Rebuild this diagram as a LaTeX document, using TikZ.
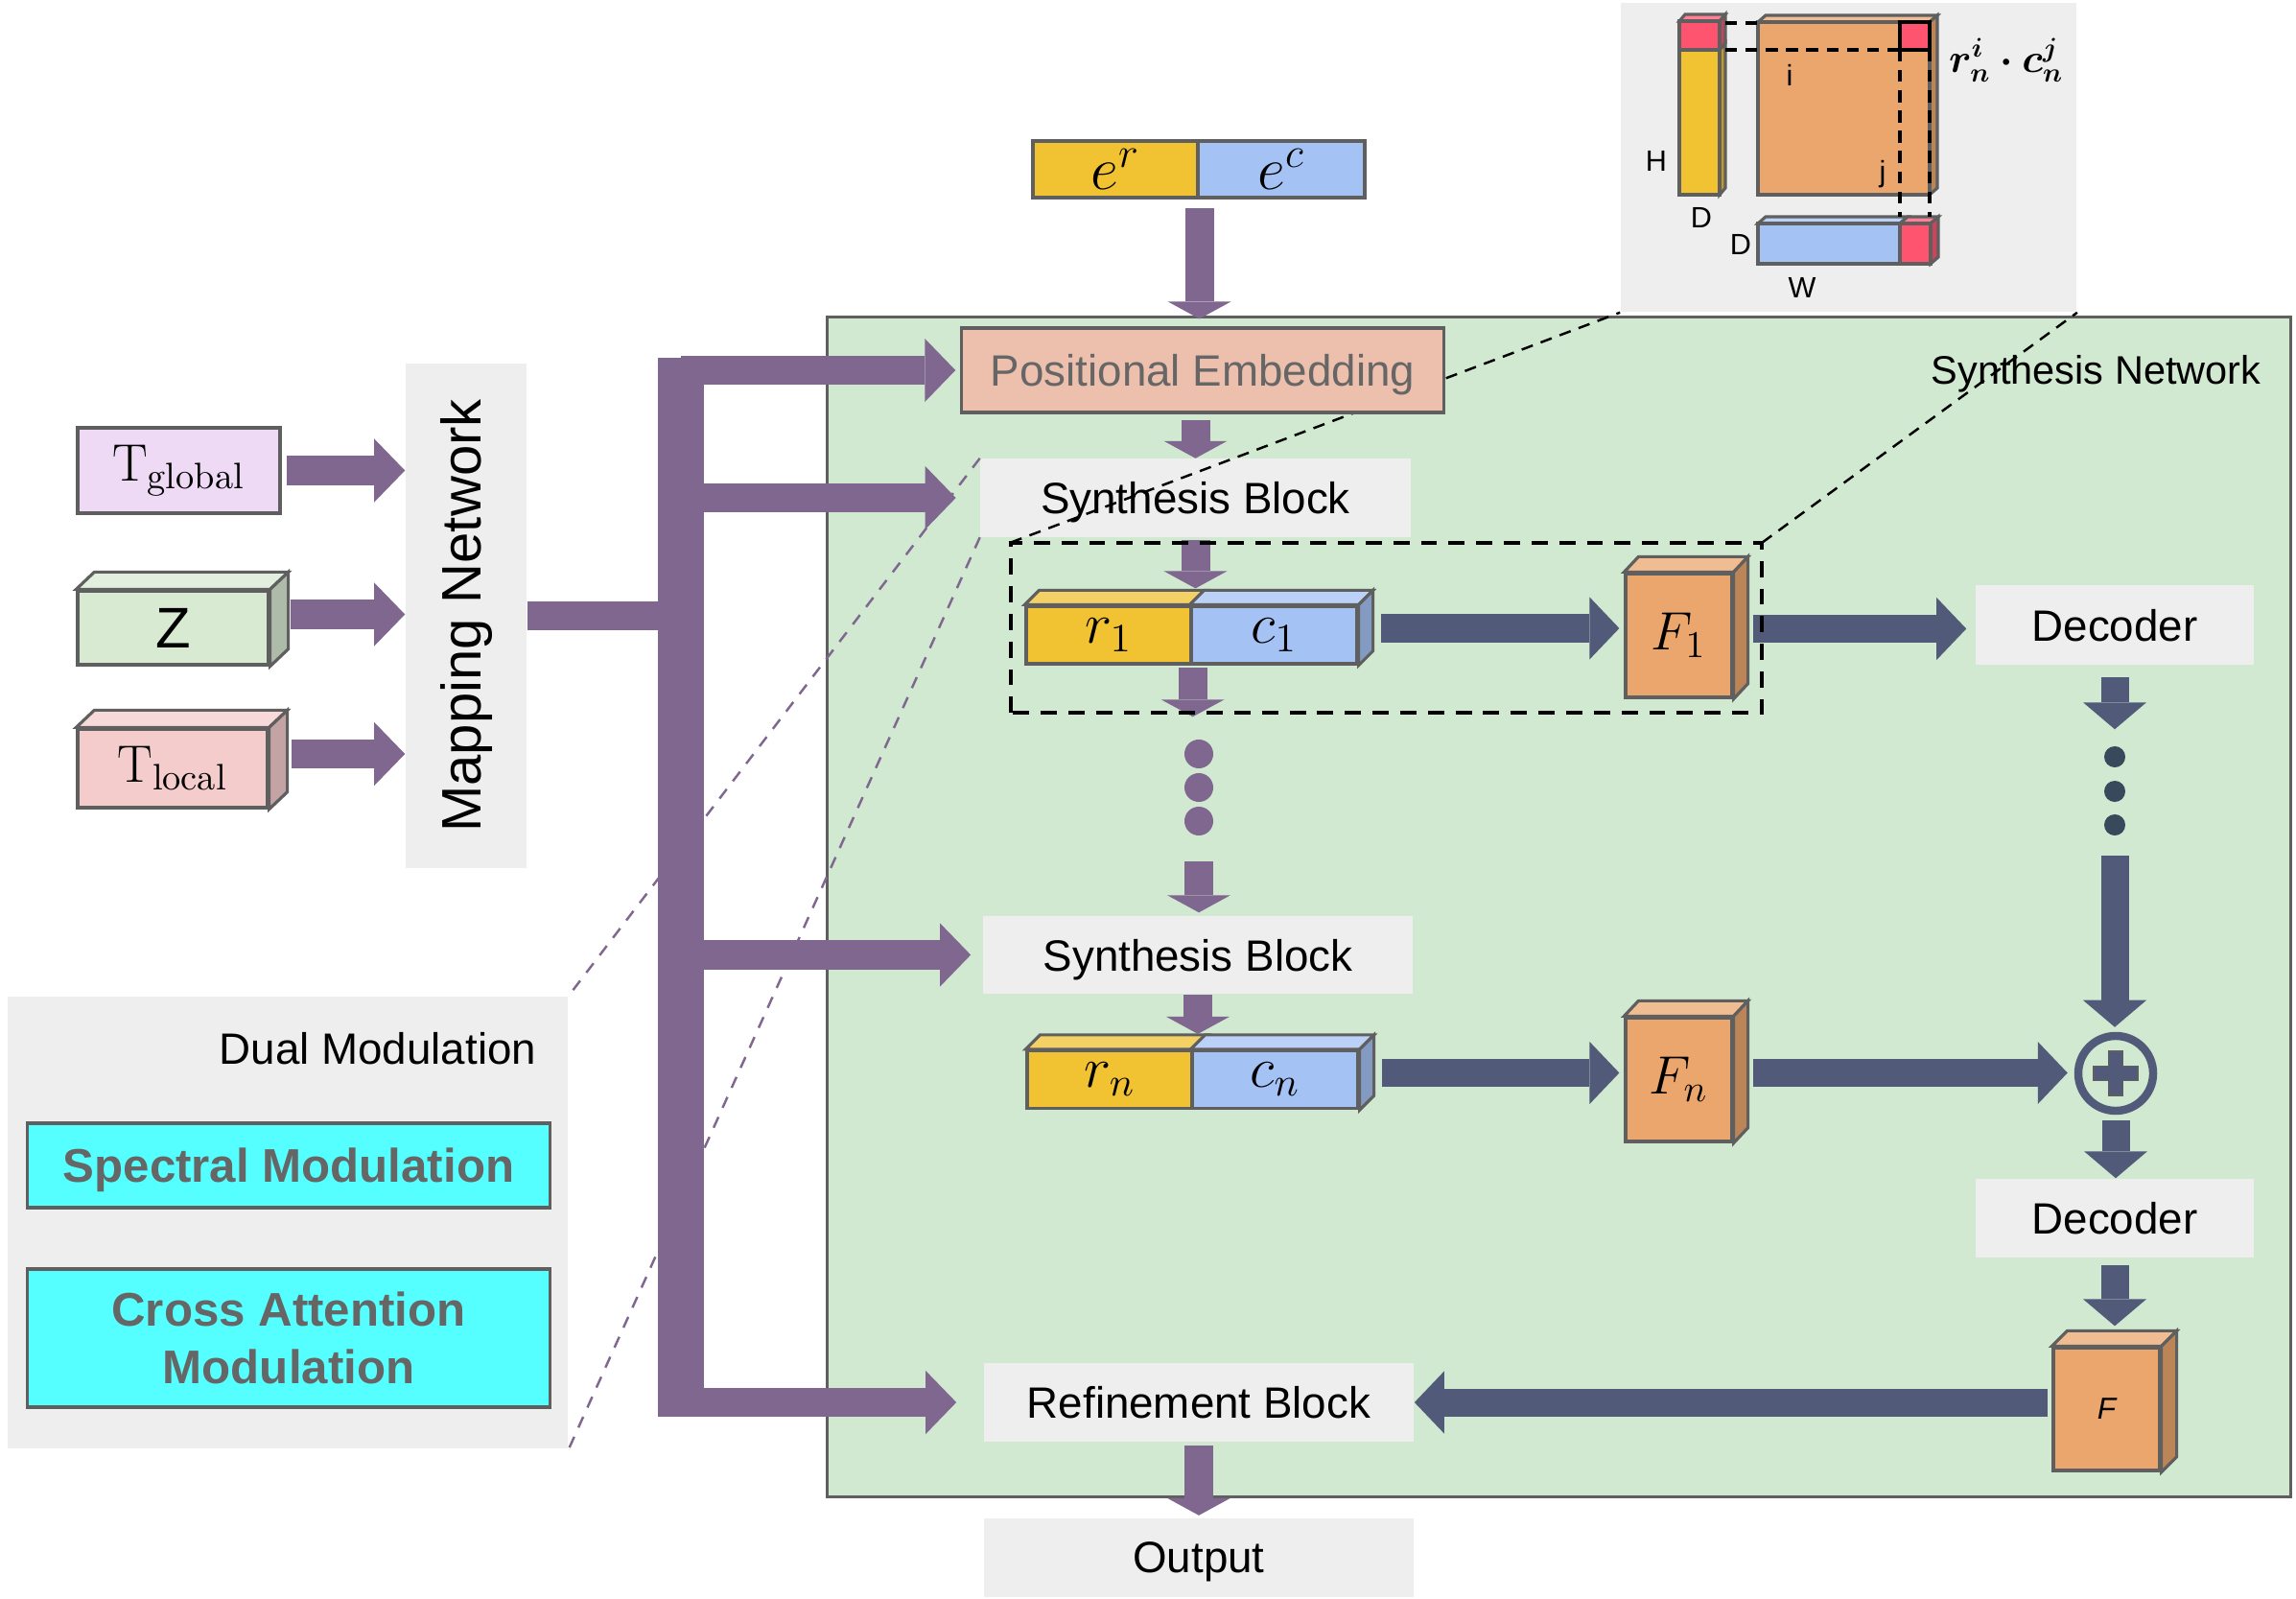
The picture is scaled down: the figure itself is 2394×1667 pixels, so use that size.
\RequirePackage{fix-cm}
\documentclass[tikz,border=0pt]{standalone}
\usepackage{fontspec}
\setsansfont{Liberation Sans}
\usepackage{amsmath,amssymb,bm}
\usepackage{xcolor}
\usetikzlibrary{
  arrows.meta,
  positioning,
  fit,
  calc,
}
\definecolor{busviolet}{RGB}{128,103,143}
\definecolor{flowblue}{RGB}{82,90,122}
\definecolor{synthgreen}{RGB}{208,233,208}
\definecolor{panelgray}{RGB}{238,238,238}
\definecolor{edgegray}{RGB}{95,95,95}
\definecolor{labelgray}{RGB}{102,102,102}
\definecolor{rowyellow}{RGB}{241,194,50}
\definecolor{colblue}{RGB}{164,194,244}
\definecolor{featorange}{RGB}{235,166,110}
\definecolor{hitred}{RGB}{255,84,112}
\definecolor{embsalmon}{RGB}{237,191,173}
\definecolor{modcyan}{RGB}{85,255,255}
\definecolor{tglobfill}{RGB}{238,218,245}
\definecolor{zfill}{RGB}{217,234,211}
\definecolor{tlocfill}{RGB}{244,204,204}
\definecolor{dotdark}{RGB}{55,73,91}
\tikzset{
  facebox/.style={draw=edgegray, line width=0.9pt, inner sep=0pt},
  greybox/.style={
    fill=panelgray, inner sep=0pt, minimum width=4.48cm, minimum height=0.81cm,
    text depth=0pt, font=\fontsize{13}{15}\selectfont\sffamily
  },
  decbox/.style={greybox, minimum width=2.9cm, minimum height=0.82cm},
  barhalf/.style={
    facebox, minimum width=1.72cm, minimum height=0.60cm,
    font=\fontsize{17}{19}\selectfont
  },
  featcube/.style={
    facebox, fill=featorange, minimum width=1.11cm, minimum height=1.29cm,
    font=\fontsize{16}{18}\selectfont
  },
  inbox/.style={facebox, minimum width=1.99cm, minimum height=0.79cm},
  modbox/.style={
    facebox, fill=modcyan, minimum width=5.44cm, text=labelgray, text depth=0pt,
    font=\fontsize{14}{17}\selectfont\sffamily\bfseries, align=center
  },
  violetdot/.style={circle, fill=busviolet, minimum size=0.30cm, inner sep=0pt},
  darkdot/.style={circle, fill=dotdark, minimum size=0.22cm, inner sep=0pt},
  busarrow/.style={busviolet, line width=0.30cm,
    -{Triangle[length=0.32cm, width=0.66cm, line width=0pt]}},
  busdown/.style={busviolet, line width=0.30cm,
    -{Triangle[length=0.18cm, width=0.66cm, line width=0pt]}},
  flowarrow/.style={flowblue, line width=0.29cm,
    -{Triangle[length=0.31cm, width=0.65cm, line width=0pt]}},
  flowdown/.style={flowblue, line width=0.29cm,
    -{Triangle[length=0.28cm, width=0.66cm, line width=0pt]}},
  zoomdash/.style={black, line width=1.1pt, dash pattern=on 4.8pt off 3.4pt},
  linkdash/.style={black, line width=0.7pt, dash pattern=on 3.5pt off 2.5pt},
  moddash/.style={busviolet, line width=0.7pt, dash pattern=on 3.5pt off 3pt},
  tinylbl/.style={font=\fontsize{8.7}{10}\selectfont\sffamily, inner sep=0pt},
}

\begin{document}
\begin{tikzpicture}[x=0.01cm, y=-0.01cm]
  \useasboundingbox (0,0) rectangle (2394,1667);

  % ── Synthesis network panel ──
  \node[draw=edgegray, line width=0.9pt, fill=synthgreen, minimum width=15.25cm,
    minimum height=12.29cm, inner sep=0pt] (SN) at (1625.5,945.5) {};
  \node[anchor=east, inner sep=0pt, text depth=0pt, font=\fontsize{11.8}{14}\selectfont\sffamily]
    at ($(SN.north east)+(-32,56)$) {Synthesis Network};

  % ── Zoom-in inset: row x column product ──
  \node[fill=panelgray, minimum width=4.75cm, minimum height=3.22cm, inner sep=0pt]
    (inset) at (1927.5,164) {};
  \filldraw[facebox, fill=hitred!75!white] (1751,22) -- (1757,15) -- (1799,15) -- (1793,22) -- cycle;
  \filldraw[facebox, fill=hitred!80!black] (1793,22) -- (1799,15) -- (1799,45) -- (1793,52) -- cycle;
  \filldraw[facebox, fill=rowyellow!80!black] (1793,52) -- (1799,45) -- (1799,196) -- (1793,203) -- cycle;
  \filldraw[facebox, fill=rowyellow] (1751,52) rectangle (1793,203);
  \filldraw[facebox, fill=hitred] (1751,22) rectangle (1793,52);
  \filldraw[facebox, fill=featorange!75!white] (1833,23) -- (1841,16) -- (2020,16) -- (2012,23) -- cycle;
  \filldraw[facebox, fill=featorange!80!black] (2012,23) -- (2020,16) -- (2020,196) -- (2012,203) -- cycle;
  \filldraw[facebox, fill=featorange] (1833,23) rectangle (2012,203);
  \filldraw[fill=hitred, draw=black, line width=1.1pt] (1981,23) rectangle (2012,52);
  \filldraw[facebox, fill=colblue!75!white] (1833,233) -- (1841,226) -- (1989,226) -- (1981,233) -- cycle;
  \filldraw[facebox, fill=hitred!75!white] (1981,233) -- (1989,226) -- (2021,226) -- (2013,233) -- cycle;
  \filldraw[facebox, fill=hitred!80!black] (2013,233) -- (2021,226) -- (2021,268) -- (2013,275) -- cycle;
  \filldraw[facebox, fill=colblue] (1833,233) rectangle (1981,275);
  \filldraw[facebox, fill=hitred] (1981,233) rectangle (2013,275);
  \draw[linkdash, line width=0.9pt] (1799,24) -- (1833,24);
  \draw[linkdash, line width=0.9pt] (1799,52) -- (1981,52);
  \draw[linkdash, line width=0.9pt] (1981,52) -- (1981,226);
  \draw[linkdash, line width=0.9pt] (2012,52) -- (2012,226);
  \node[tinylbl] at (1727,168) {H};
  \node[tinylbl] at (1774,227) {D};
  \node[tinylbl] at (1866,78) {i};
  \node[tinylbl] at (1963,182) {j};
  \node[tinylbl] at (1815,255) {D};
  \node[tinylbl] at (1879,300) {W};
  \node[font=\fontsize{12}{14}\selectfont, inner sep=0pt] at (2092,63) {$\bm{r_n^i\cdot c_n^j}$};

  % ── Dual modulation panel ──
  \node[fill=panelgray, minimum width=5.84cm, minimum height=4.71cm, inner sep=0pt]
    (DM) at (300,1274.5) {};
  \node[anchor=east, inner sep=0pt, text depth=0pt, font=\fontsize{13}{15}\selectfont\sffamily]
    at ($(DM.north east)+(-33,55)$) {Dual Modulation};
  \node[modbox, minimum height=0.88cm] (SM) at (301,1215) {Spectral Modulation};
  \node[modbox, minimum height=1.44cm] (CA) at (301,1395) {Cross Attention\\Modulation};

  % ── Inputs and mapping network ──
  \node[inbox, fill=tglobfill, minimum width=2.11cm, minimum height=0.89cm,
    font=\fontsize{15.6}{18}\selectfont] (Tg) at (186.5,490.5) {$\mathrm{T}_{\mathrm{global}}$};
  \node[inbox, fill=zfill, minimum height=0.77cm,
    font=\fontsize{17}{19}\selectfont\sffamily] (Z) at (180.5,654.5) {Z};
  \node[inbox, fill=tlocfill, minimum width=1.98cm, minimum height=0.82cm,
    font=\fontsize{15.6}{18}\selectfont] (Tl) at (180,801) {$\mathrm{T}_{\mathrm{local}}$};
  \node[fill=panelgray, minimum width=1.26cm, minimum height=5.26cm, inner sep=0pt,
    font=\fontsize{16.5}{19}\selectfont\sffamily] (Map) at (486,642)
    {\rotatebox{90}{Mapping Network}};

  % ── Synthesis column ──
  \node[greybox] (SB1) at (1246.5,519) {Synthesis Block};
  \node[barhalf, fill=rowyellow] (r1) at (1156,662) {$r_{1}$};
  \node[barhalf, fill=colblue, minimum width=1.73cm] (c1) at (1328.5,662) {$c_{1}$};
  \node[featcube] (F1) at (1750.5,662.5) {$F_{1}$};
  \node[decbox] (Dec1) at (2205,651.5) {Decoder};
  \node[violetdot] (pd1) at (1250,786) {};
  \node[violetdot] (pd2) at (1250,821) {};
  \node[violetdot] (pd3) at (1250,856) {};
  \node[darkdot] (bd1) at (2205,789) {};
  \node[darkdot] (bd2) at (2205,825) {};
  \node[darkdot] (bd3) at (2205,860) {};
  \node[greybox] (SB2) at (1249,995.5) {Synthesis Block};
  \node[barhalf, fill=rowyellow] (rn) at (1157,1125.5) {$r_{n}$};
  \node[barhalf, fill=colblue, minimum width=1.73cm] (cn) at (1329.5,1125.5) {$c_{n}$};
  \node[featcube] (Fn) at (1750.5,1125.5) {$F_{n}$};
  \node[circle, draw=flowblue, line width=2.4pt, minimum size=0.78cm, inner sep=0pt]
    (plus) at (2206,1119) {};
  \node[decbox] (Dec2) at (2205,1270) {Decoder};
  \node[featcube, minimum height=1.28cm, font=\fontsize{9}{11}\selectfont\sffamily\itshape]
    (Fb) at (2196.5,1469) {F};
  \node[greybox] (Ref) at (1250,1462) {Refinement Block};
  \node[greybox] (Out) at (1250,1624) {Output};

  % ── Depth faces of the blocks ──
  \foreach \nd/\dx/\dy/\col in {Z/19/18/zfill, Tl/19/18/tlocfill, r1/15/15/rowyellow,
      c1/15/15/colblue, rn/15/15/rowyellow, cn/15/15/colblue,
      F1/15/16/featorange, Fn/15/16/featorange, Fb/16/16/featorange} {
    \filldraw[facebox, fill=\col!75!white] (\nd.north west) -- ++(\dx,-\dy)
      -- ($(\nd.north east)+(\dx,-\dy)$) -- (\nd.north east) -- cycle;
  }
  \foreach \nd/\dx/\dy/\col in {Z/19/18/zfill, Tl/19/18/tlocfill, c1/15/15/colblue,
      cn/15/15/colblue, F1/15/16/featorange, Fn/15/16/featorange, Fb/16/16/featorange} {
    \filldraw[facebox, fill=\col!80!black] (\nd.north east) -- ++(\dx,-\dy)
      -- ($(\nd.south east)+(\dx,-\dy)$) -- (\nd.south east) -- cycle;
  }

  % ── Plus sign ──
  \filldraw[fill=flowblue, draw=edgegray, line width=0.4pt, shift={(plus)}]
    (-7.5,-23) -- (7.5,-23) -- (7.5,-7.5) -- (23,-7.5) -- (23,7.5) -- (7.5,7.5)
    -- (7.5,23) -- (-7.5,23) -- (-7.5,7.5) -- (-23,7.5) -- (-23,-7.5) -- (-7.5,-7.5) -- cycle;

  % ── Zoom frame and its links ──
  \coordinate (F1back) at ($(F1.north east)+(15,-16)$);
  \node[fit=(r1.west)(F1.south east)(F1back), inner sep=0.14cm] (frame) {};
  \draw[linkdash] (frame.north west) -- (inset.south west);
  \draw[linkdash] (frame.north east) -- (inset.south east);
  \draw[moddash] (SB1.north west) -- (DM.north east);
  \draw[moddash] (SB1.south west) -- (DM.south east);

  % ── Embeddings ──
  \node[facebox, fill=embsalmon, minimum width=5.02cm, minimum height=0.88cm, text depth=0pt,
    text=labelgray, font=\fontsize{13}{15}\selectfont\sffamily] (PE) at (1254,386)
    {Positional Embedding};
  \node[barhalf, fill=rowyellow, minimum height=0.59cm,
    font=\fontsize{18}{20}\selectfont] (er) at (1163,176.5) {$e^{r}$};
  \node[barhalf, fill=colblue, minimum width=1.74cm, minimum height=0.59cm,
    font=\fontsize{18}{20}\selectfont] (ec) at (1336,176.5) {$e^{c}$};

  % ── Mapping bus ──
  \coordinate (bustop) at (710,373);
  \coordinate (busbot) at (710,1477);
  \draw[busarrow] ([xshift=0.05cm]Tg.east) -- (Tg.east -| Map.west);
  \coordinate (Zout) at ($(Z.east)+(21,-14)$);
  \draw[busarrow] (Zout) -- (Zout -| Map.west);
  \coordinate (Tlout) at ($(Tl.east)+(23,-15)$);
  \draw[busarrow] (Tlout) -- (Tlout -| Map.west);
  \draw[busviolet, line width=0.30cm] (Map.east) -- (Map.east -| bustop);
  \draw[busviolet, line width=0.47cm] (bustop) -- (busbot);
  \foreach \nd/\gap in {PE/0.05cm, SB1/0.25cm, SB2/0.12cm, Ref/0.28cm}
    \draw[busarrow, shorten >=\gap] (bustop |- \nd.west) -- (\nd.west);

  % ── Synthesis flow ──
  \draw[busdown, shorten <=0.09cm, shorten >=0.08cm] (er.south east) -- (er.south east |- PE.north);
  \draw[busdown, shorten <=0.06cm] (PE.south -| SB1.north) -- (SB1.north);
  \draw[busdown, shorten <=0.03cm, shorten >=0.17cm] (SB1.south) -- (SB1.south |- r1.north);
  \draw[busdown, shorten <=0.02cm, shorten >=0.23cm] (r1.south east) -- (r1.south east |- pd1.north);
  \draw[busdown, shorten <=0.26cm, shorten >=0.03cm] (pd3.south) -- (pd3.south |- SB2.north);
  \draw[busdown, shorten >=0.16cm] (SB2.south) -- (SB2.south |- rn.north);
  \draw[busdown, shorten <=0.04cm, shorten >=0.03cm] (Ref.south) -- (Out.north);

  % ── Feature flow ──
  \coordinate (c1out) at ($(c1.east)+(23,-7)$);
  \coordinate (F1out) at ($(F1.east)+(20,-7)$);
  \coordinate (cnout) at ($(cn.east)+(23,-7)$);
  \coordinate (Fnout) at ($(Fn.east)+(20,-7)$);
  \coordinate (Fbout) at ($(Fb.west)+(-4,-7)$);
  \draw[flowarrow, shorten >=0.05cm] (c1out) -- (c1out -| F1.west);
  \draw[flowarrow, shorten >=0.09cm] (F1out) -- (F1out -| Dec1.west);
  \draw[flowarrow, shorten >=0.05cm] (cnout) -- (cnout -| Fn.west);
  \draw[flowarrow, shorten >=0.07cm] (Fnout) -- (Fnout -| plus.west);
  \draw[flowarrow] (Fbout) -- (Fbout -| Ref.east);
  \draw[flowdown, shorten <=0.13cm, shorten >=0.17cm] (Dec1.south) -- (bd1.north);
  \draw[flowdown, shorten <=0.20cm, shorten >=0.05cm] (bd3.south) -- (bd3.south |- plus.north);
  \draw[flowdown, shorten <=0.06cm] (plus.south) -- (plus.south |- Dec2.north);
  \draw[flowdown, shorten <=0.07cm, shorten >=0.21cm] (Dec2.south) -- (Dec2.south |- Fb.north);

  % ── Zoom frame outline ──
  \draw[zoomdash] (frame.south west) rectangle (frame.north east);

\end{tikzpicture}
\end{document}
